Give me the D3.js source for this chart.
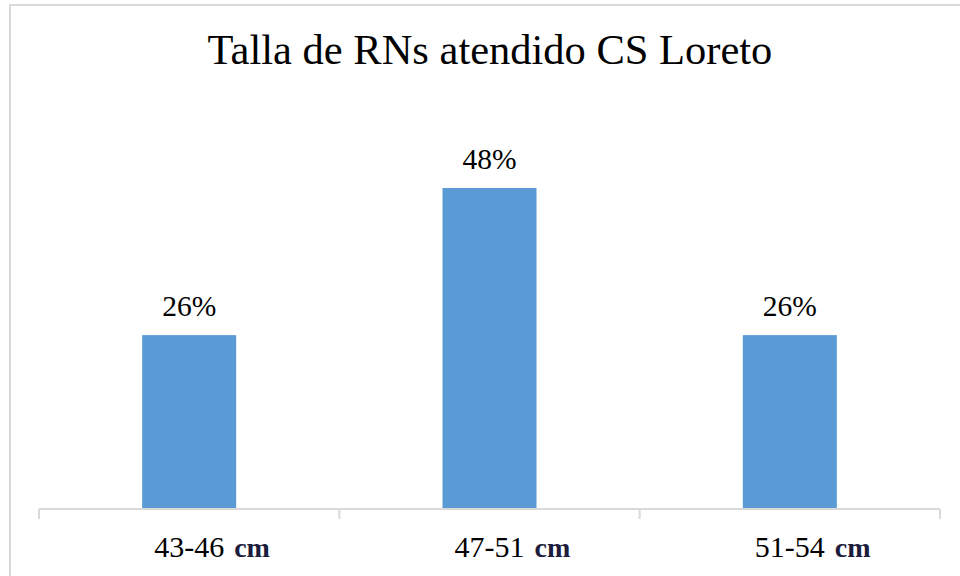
<!DOCTYPE html>
<html><head><meta charset="utf-8">
<script src="https://cdn.jsdelivr.net/npm/d3@7"></script>
<style>html,body{margin:0;padding:0;background:#fff;}svg{display:block;}
svg text{font-family:"Liberation Serif","Times New Roman",Times,"DejaVu Serif",serif;}</style>
</head><body>
<script>
const categories = ["43-46", "47-51", "51-54"];
const unitLabel = "cm";
const values = [26, 48, 26];
const titleText = "Talla de RNs atendido CS Loreto";

const W = 960, H = 576;
const svg = d3.select("body").append("svg").attr("width", W).attr("height", H);

// outer border
svg.append("rect").attr("x", 10).attr("y", 5).attr("width", W + 10).attr("height", H + 10)
  .attr("fill", "#fff").attr("stroke", "#d9d9d9").attr("stroke-width", 2);

const x = d3.scaleBand().domain(categories).range([39, 940]).paddingInner(0.687).paddingOuter(0.3435);
const y = d3.scaleLinear().domain([0, 50]).range([509, 509 - 6.6875 * 50]);

svg.append("text").attr("x", 490).attr("y", 64).attr("text-anchor", "middle")
  .attr("font-size", 42.5).attr("fill", "#000").text(titleText);

svg.selectAll("rect.bar").data(values).join("rect").attr("class", "bar")
  .attr("x", (d, i) => x(categories[i])).attr("width", x.bandwidth())
  .attr("y", d => y(d)).attr("height", d => y(0) - y(d)).attr("fill", "#5b9bd5");

svg.selectAll("text.val").data(values).join("text").attr("class", "val")
  .attr("x", (d, i) => x(categories[i]) + x.bandwidth() / 2).attr("y", d => y(d) - 19)
  .attr("text-anchor", "middle").attr("font-size", 29.5).attr("fill", "#000")
  .text(d => d + "%");

// axis
const axisG = svg.append("g").attr("transform", "translate(0,509)");
const step = x.step();
const edges = [39, 39 + step, 39 + 2 * step, 940];
axisG.append("line").attr("x1", 39).attr("x2", 940).attr("y1", 0).attr("y2", 0)
  .attr("stroke", "#d9d9d9").attr("stroke-width", 2);
axisG.selectAll("line.tick").data(edges).join("line").attr("class", "tick")
  .attr("x1", d => d).attr("x2", d => d).attr("y1", 0).attr("y2", 10)
  .attr("stroke", "#d9d9d9").attr("stroke-width", 2);

const labels = svg.selectAll("g.lab").data(categories).join("g").attr("class", "lab")
  .attr("transform", d => `translate(${x(d) + x.bandwidth() / 2},557)`);
labels.append("text").attr("class", "num").attr("text-anchor", "middle")
  .attr("font-size", 30).attr("fill", "#000").text(d => d);
labels.each(function() {
  const g = d3.select(this);
  const w = g.select("text.num").node().getComputedTextLength();
  g.append("text").attr("x", w / 2 + 10).attr("font-weight", "bold")
    .attr("font-size", 28).attr("fill", "#1c1c3c").text(unitLabel);
});
</script>
</body></html>
